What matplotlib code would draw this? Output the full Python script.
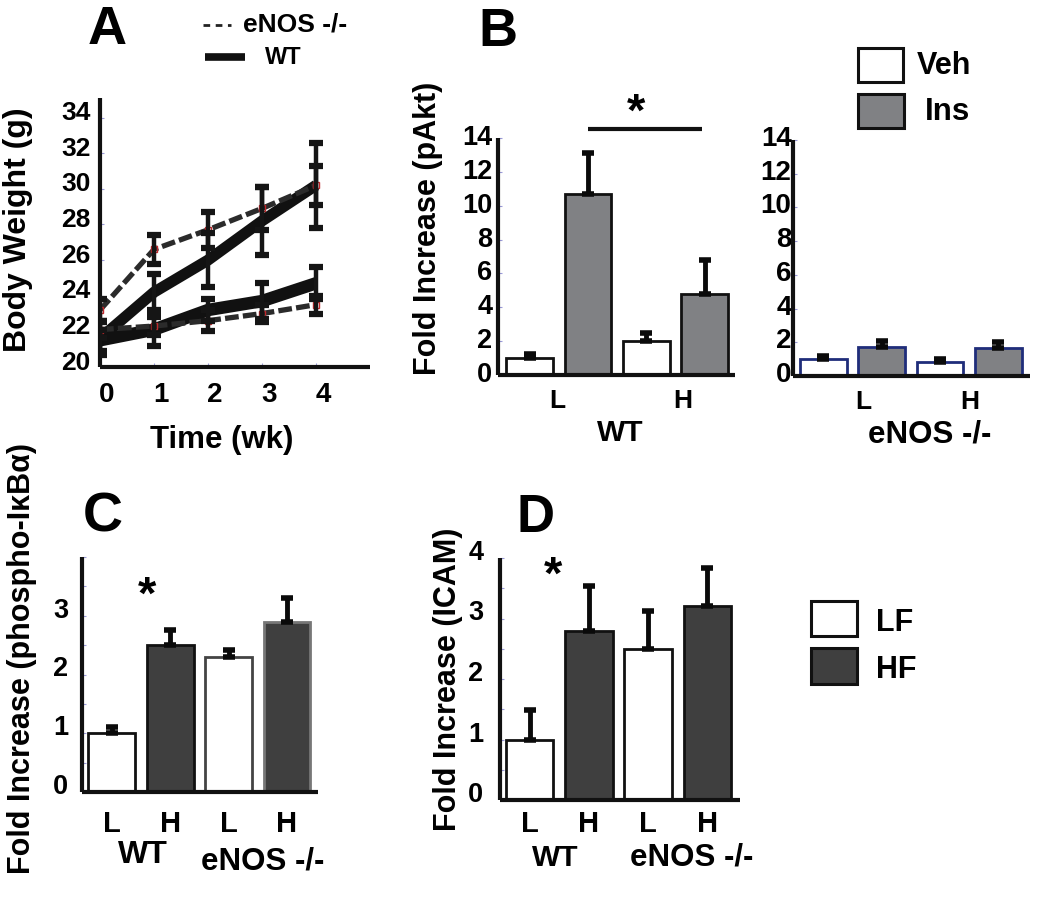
import matplotlib
matplotlib.use("Agg")
import matplotlib.pyplot as plt
import numpy as np
from matplotlib.lines import Line2D
from matplotlib.patches import Rectangle
from matplotlib.transforms import ScaledTranslation

plt.rcParams['font.family'] = ['Liberation Sans', 'DejaVu Sans']
plt.rcParams['font.weight'] = 'bold'

# --- data ---
weeks = [0, 1, 2, 3, 4]
wt_up = [21.6, 24.2, 26.0, 28.2, 30.2]
wt_up_err = [0.9, 1.0, 1.5, 1.9, 2.4]
wt_lo = [21.5, 22.1, 23.2, 23.7, 24.7]
wt_lo_err = [0.6, 0.9, 0.6, 1.0, 0.9]
ko_up = [23.2, 26.6, 27.7, 28.9, 30.2]
ko_up_err = [0.6, 0.8, 1.0, 1.2, 1.1]
ko_lo = [22.1, 22.3, 22.6, 23.0, 23.5]
ko_lo_err = [0.5, 0.5, 0.6, 0.5, 0.5]

# pAkt, order: Veh-L, Ins-L, Veh-H, Ins-H
pakt_wt = [1.0, 10.7, 2.0, 4.8]
pakt_wt_err = [0.25, 2.4, 0.5, 2.0]
pakt_ko = [1.0, 1.7, 0.85, 1.65]
pakt_ko_err = [0.2, 0.4, 0.15, 0.35]

# phospho-IkBa and ICAM, order: WT-L, WT-H, eNOS-L, eNOS-H
ikb = [1.0, 2.5, 2.3, 2.9]
ikb_err = [0.1, 0.26, 0.12, 0.41]
icam = [1.0, 2.8, 2.5, 3.2]
icam_err = [0.49, 0.74, 0.63, 0.63]

W, H = 1050, 919
fig = plt.figure(figsize=(W / 100, H / 100), dpi=100)


def rect(x0, y0, x1, y1):
    return [x0 / W, 1 - y1 / H, (x1 - x0) / W, (y1 - y0) / H]


def ftext(x, y, s, size, **kw):
    kw.setdefault('ha', 'center')
    kw.setdefault('va', 'center')
    fig.text(x / W, 1 - y / H, s, fontsize=size, fontweight='bold', **kw)


def fline(x0, x1, y, **kw):
    fig.add_artist(Line2D([x0 / W, x1 / W], [1 - y / H, 1 - y / H],
                          transform=fig.transFigure, **kw))


def fbox(x0, y0, x1, y1, fc, ec='#111111'):
    fig.add_artist(Rectangle((x0 / W, 1 - y1 / H), (x1 - x0) / W, (y1 - y0) / H,
                             transform=fig.transFigure, fc=fc, ec=ec, lw=2.2))


def style(ax):
    for s in ['top', 'right']:
        ax.spines[s].set_visible(False)
    for s in ['left', 'bottom']:
        ax.spines[s].set_linewidth(3)
        ax.spines[s].set_color('#111111')
        ax.spines[s].set_capstyle('butt')
    ax.tick_params(direction='in', length=3, width=0.8, color='#9a9ad8')
    ax.set_facecolor('none')


def shift(labels, dx, dy):
    for t in labels:
        t.set_transform(t.get_transform() + ScaledTranslation(dx / 100, dy / 100, fig.dpi_scale_trans))


# ---------------- A ----------------
axA = fig.add_axes(rect(100, 98, 370, 367))
style(axA)
axA.plot(weeks, wt_up, color='#111111', lw=8, solid_capstyle='butt', zorder=3)
axA.plot(weeks, wt_lo, color='#111111', lw=9, solid_capstyle='butt', zorder=3)
for vals in [ko_up, ko_lo]:
    axA.plot(weeks, vals, color='#2b2b2b', lw=3.8, dashes=(2.6, 0.8), zorder=4,
             marker='s', ms=5, mfc='none', mec='#c0282b', mew=1)
for vals, errs in [(wt_up, wt_up_err), (wt_lo, wt_lo_err), (ko_up, ko_up_err), (ko_lo, ko_lo_err)]:
    axA.errorbar(weeks, vals, yerr=errs, fmt='none', ecolor='#151515',
                 elinewidth=3.2, capsize=5, capthick=4.5, zorder=5)
axA.set_xlim(0, 5.0)
axA.set_ylim(20, 35.1)
axA.set_xticks(weeks)
axA.set_xticklabels([str(w) for w in weeks], fontsize=20, fontweight='bold')
axA.set_yticks(np.arange(20, 35, 2))
axA.set_yticklabels([str(v) for v in range(20, 35, 2)], fontsize=19, fontweight='bold')
axA.tick_params(axis='y', pad=7)
axA.tick_params(axis='x', pad=11)
shift(axA.get_yticklabels(), 0, 7)
shift(axA.get_xticklabels(), 7, 0)

ftext(107, 30, 'A', 39)
fline(203, 231, 25, color='#222222', lw=2, dashes=(2.4, 2.0))
ftext(243, 25, 'eNOS -/-', 19, ha='left')
fline(205, 245, 57, color='#111111', lw=5.5, solid_capstyle='butt')
ftext(265, 57, 'WT', 17, ha='left')
ftext(18, 230, 'Body Weight (g)', 23, rotation=90)
ftext(222, 440, 'Time (wk)', 22.5)

# ---------------- B ----------------
bar_x = np.arange(4)
veh_fc, ins_fc = 'white', '#808184'
b_colors = [veh_fc, ins_fc, veh_fc, ins_fc]

axB = fig.add_axes(rect(498, 138, 735, 375))
style(axB)
axB.bar(bar_x, pakt_wt, width=0.8, color=b_colors, edgecolor='#111111', lw=2,
        yerr=[np.zeros(4), pakt_wt_err],
        error_kw=dict(ecolor='#0a0a0a', elinewidth=3.5, capsize=4, capthick=4))
axB.set_xlim(-0.54, 3.52)
axB.set_ylim(0, 14)
axB.set_yticks(range(0, 15, 2))
axB.set_yticklabels([str(v) for v in range(0, 15, 2)], fontsize=19.5, fontweight='bold')
axB.set_xticks([0.47, 2.62])
axB.set_xticklabels(['L', 'H'], fontsize=19, fontweight='bold')
axB.tick_params(axis='x', length=0, pad=10)
axB.tick_params(axis='y', pad=4)
shift(axB.get_yticklabels(), 0, 3)

axB2 = fig.add_axes(rect(793, 140, 1030, 376))
style(axB2)
axB2.bar(bar_x, pakt_ko, width=0.8, color=b_colors, edgecolor='#1f2d7a', lw=2,
         yerr=[np.zeros(4), pakt_ko_err],
         error_kw=dict(ecolor='#0a0a0a', elinewidth=3.5, capsize=4, capthick=4))
axB2.set_xlim(-0.52, 3.54)
axB2.set_ylim(0, 14)
axB2.set_yticks(range(0, 15, 2))
axB2.set_yticklabels([str(v) for v in range(0, 15, 2)], fontsize=20, fontweight='bold')
axB2.set_xticks([0.68, 2.5])
axB2.set_xticklabels(['L', 'H'], fontsize=19, fontweight='bold')
axB2.tick_params(axis='x', length=0, pad=10)
axB2.tick_params(axis='y', pad=1)
shift(axB2.get_yticklabels(), 0, 4)

ftext(498, 32, 'B', 39)
ftext(428, 228, 'Fold Increase (pAkt)', 22, rotation=90)
ftext(620, 433, 'WT', 21.5)
ftext(930, 435, 'eNOS -/-', 22.5)
fline(588, 702, 129, color='#111111', lw=3, solid_capstyle='butt')
ftext(636, 114, '*', 34)
fbox(858, 48, 903, 82, veh_fc)
fbox(858, 94, 904, 128, ins_fc)
ftext(917, 66, 'Veh', 22, ha='left')
ftext(925, 112, 'Ins', 22.5, ha='left')

# ---------------- C & D ----------------
lf_fc, hf_fc = 'white', '#3f3f3f'
cd_colors = [lf_fc, hf_fc, lf_fc, hf_fc]
cd_labels = ['L', 'H', 'L', 'H']

axC = fig.add_axes(rect(82, 557, 318, 792))
style(axC)
axC.bar(bar_x, ikb, width=0.8, color=cd_colors,
        edgecolor=['#111111', '#111111', '#444444', '#777777'], lw=2,
        yerr=[np.zeros(4), ikb_err],
        error_kw=dict(ecolor='#0a0a0a', elinewidth=3.5, capsize=4, capthick=4))
axC.set_xlim(-0.51, 3.53)
axC.set_ylim(0, 4)
axC.set_yticks([0, 0.5, 1, 1.5, 2, 2.5, 3, 3.5, 4])
axC.set_yticklabels(['0', '', '1', '', '2', '', '3', '', ''], fontsize=19.5, fontweight='bold')
axC.set_xticks(bar_x)
axC.set_xticklabels(cd_labels, fontsize=21, fontweight='bold')
axC.tick_params(axis='x', length=0, pad=13)
axC.tick_params(axis='y', pad=10)
shift(axC.get_yticklabels(), 0, 8)

ftext(103, 518, 'C', 40)
ftext(22, 658, 'Fold Increase (phospho-IκBα)', 22, rotation=90)
ftext(147, 597, '*', 34)
ftext(143, 855, 'WT', 23)
ftext(263, 862, 'eNOS -/-', 22.5)

axD = fig.add_axes(rect(500, 558, 740, 800))
style(axD)
axD.bar(bar_x, icam, width=0.8, color=cd_colors, edgecolor='#111111', lw=2,
        yerr=[np.zeros(4), icam_err],
        error_kw=dict(ecolor='#0a0a0a', elinewidth=3.5, capsize=4, capthick=4))
axD.set_xlim(-0.5, 3.55)
axD.set_ylim(0, 4)
axD.set_yticks([0, 0.5, 1, 1.5, 2, 2.5, 3, 3.5, 4])
axD.set_yticklabels(['0', '', '1', '', '2', '', '3', '', '4'], fontsize=19.5, fontweight='bold')
axD.set_xticks(bar_x)
axD.set_xticklabels(cd_labels, fontsize=21, fontweight='bold')
axD.tick_params(axis='x', length=0, pad=7)
axD.tick_params(axis='y', pad=12)
shift(axD.get_yticklabels(), 0, 8)

ftext(535, 518, 'D', 38)
ftext(448, 679, 'Fold Increase (ICAM)', 22, rotation=90)
ftext(553, 577, '*', 34)
ftext(555, 858, 'WT', 21.5)
ftext(692, 858, 'eNOS -/-', 22.5)

fbox(811, 601, 857, 636, lf_fc)
fbox(811, 648, 857, 684, hf_fc)
ftext(876, 623, 'LF', 22, ha='left')
ftext(876, 670, 'HF', 22, ha='left')

fig.savefig('out.png', dpi=100)
